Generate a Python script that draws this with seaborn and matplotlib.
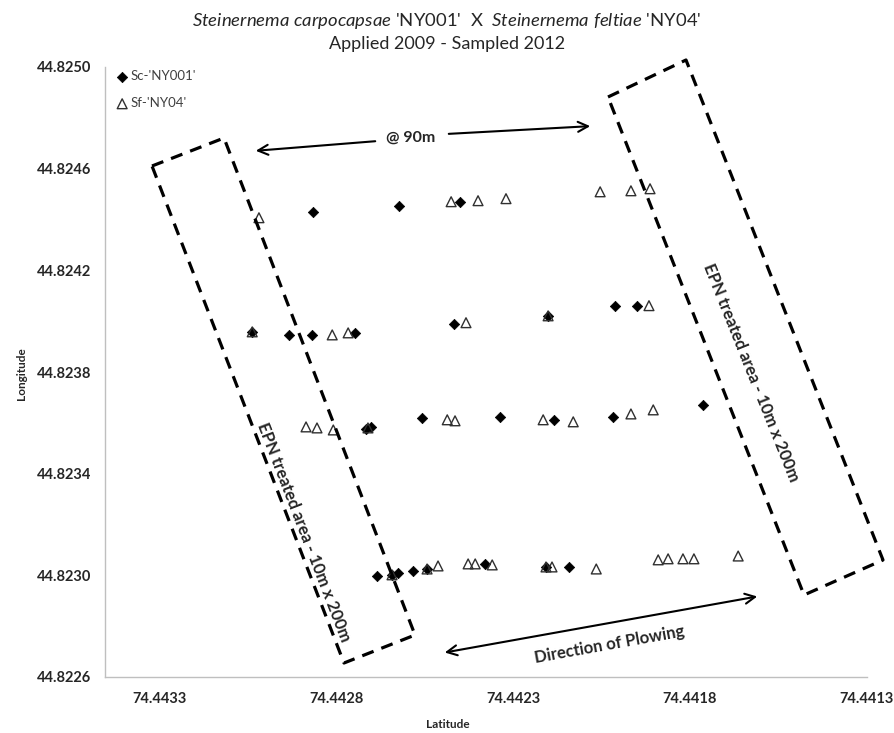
import matplotlib
matplotlib.use("Agg")
import matplotlib.pyplot as plt
from matplotlib.lines import Line2D
from matplotlib.patches import FancyArrowPatch
import seaborn as sns
import pandas as pd

# ---------------- data ----------------
sc_lat = [74.442865, 74.442622, 74.442450,
          74.443037, 74.442933, 74.442868, 74.442746, 74.442467, 74.442201, 74.442012, 74.441950,
          74.442715, 74.442701, 74.442557, 74.442337, 74.442184, 74.442017, 74.441763,
          74.442684, 74.442642, 74.442625, 74.442582, 74.442543, 74.442379, 74.442207, 74.442142]
sc_lon = [44.824431, 44.824454, 44.824470,
          44.823958, 44.823946, 44.823946, 44.823954, 44.823990, 44.824021, 44.824061, 44.824061,
          44.823576, 44.823584, 44.823620, 44.823624, 44.823612, 44.823624, 44.823671,
          44.822998, 44.823002, 44.823009, 44.823017, 44.823025, 44.823045, 44.823033, 44.823033]

sf_lat = [74.443018, 74.442475, 74.442399, 74.442320, 74.442054, 74.441967, 74.441913,
          74.443037, 74.442811, 74.442766, 74.442433, 74.442201, 74.441916,
          74.442885, 74.442854, 74.442808, 74.442710, 74.442486, 74.442464, 74.442215, 74.442130,
          74.441967, 74.441904,
          74.442642, 74.442543, 74.442512, 74.442427, 74.442407, 74.442359, 74.442207, 74.442190,
          74.442065, 74.441890, 74.441862, 74.441820, 74.441789, 74.441664]
sf_lon = [44.824407, 44.824470, 44.824474, 44.824482, 44.824509, 44.824513, 44.824521,
          44.823958, 44.823946, 44.823954, 44.823994, 44.824021, 44.824061,
          44.823584, 44.823580, 44.823572, 44.823580, 44.823612, 44.823608, 44.823612, 44.823604,
          44.823635, 44.823651,
          44.823002, 44.823025, 44.823037, 44.823045, 44.823045, 44.823041, 44.823033, 44.823033,
          44.823025, 44.823061, 44.823065, 44.823065, 44.823065, 44.823076]

series_names = ["Sc-'NY001'", "Sf-'NY04'"]
x_ticks = [74.4433, 74.4428, 74.4423, 74.4418, 74.4413]
y_ticks = [44.8226, 44.8230, 44.8234, 44.8238, 44.8242, 44.8246, 44.8250]

sc_df = pd.DataFrame({"Latitude": sc_lat, "Longitude": sc_lon})
sf_df = pd.DataFrame({"Latitude": sf_lat, "Longitude": sf_lon})

# ---------------- style ----------------
sns.set_theme(style="white")
plt.rcParams['font.family'] = ['Lato', 'DejaVu Sans']
plt.rcParams['mathtext.fontset'] = 'custom'
plt.rcParams['mathtext.rm'] = 'Lato'
plt.rcParams['mathtext.it'] = 'Lato:italic'

W, H = 894, 733
fig = plt.figure(figsize=(W / 100, H / 100), dpi=100)
L, R, T, B = 105, 867, 67, 677
ax = fig.add_axes([L / W, 1 - B / H, (R - L) / W, (B - T) / H])

sns.scatterplot(data=sc_df, x="Latitude", y="Longitude", ax=ax, marker="D", s=28,
                color="black", edgecolor="black", linewidth=0.5, label=series_names[0], zorder=3)
sns.scatterplot(data=sf_df, x="Latitude", y="Longitude", ax=ax, marker="^", s=50,
                facecolor="none", edgecolor="#303030", linewidth=1.0, label=series_names[1], zorder=4)

ax.set_xlim(74.443453, 74.4413)
ax.set_ylim(44.8226, 44.8250)
ax.set_xticks(x_ticks)
ax.set_yticks(y_ticks)
ax.set_xticklabels([f"{v:.4f}" for v in x_ticks], fontsize=10.5, fontweight="bold", color="#262626")
ax.set_yticklabels([f"{v:.4f}" for v in y_ticks], fontsize=10.5, fontweight="bold", color="#262626")
ax.tick_params(axis="both", direction="out", length=5, width=0.8, color="#BFBFBF")
ax.tick_params(axis="x", pad=6)
ax.tick_params(axis="y", pad=5)
for s in ["top", "right"]:
    ax.spines[s].set_visible(False)
for s in ["left", "bottom"]:
    ax.spines[s].set_color("#BFBFBF")
    ax.spines[s].set_linewidth(1.0)
ax.set_xlabel("")
ax.set_ylabel("")
ax.grid(False)

leg = ax.legend(loc="upper left", bbox_to_anchor=(0.013, 0.995), frameon=False,
                fontsize=9.5, handletextpad=0.1, labelspacing=1.15, borderaxespad=0,
                borderpad=0, handlelength=1.1)
for t in leg.get_texts():
    t.set_color("#404040")

# axis labels
fig.text(448 / W, 1 - 724 / H, "Latitude", ha="center", va="center", fontsize=8.5, fontweight="bold")
fig.text(22 / W, 1 - 374 / H, "Longitude", ha="center", va="center", fontsize=8.5,
         fontweight="bold", rotation=90)

# title
fig.text(447 / W, 1 - 21 / H,
         r"$\it{Steinernema\ carpocapsae}$ 'NY001'  X  $\it{Steinernema\ feltiae}$ 'NY04'",
         ha="center", va="center", fontsize=13.3)
fig.text(447 / W, 1 - 44 / H, "Applied 2009 - Sampled 2012", ha="center", va="center", fontsize=13.0)


def P(x, y):
    return (x / W, 1 - y / H)


def dashed_box(corners):
    pts = corners + [corners[0]]
    xs = [P(*c)[0] for c in pts]
    ys = [P(*c)[1] for c in pts]
    fig.add_artist(Line2D(xs, ys, transform=fig.transFigure, color="black", linewidth=2.3,
                          linestyle=(0, (3.8, 2.6)), dash_capstyle="butt"))


dashed_box([(152, 166), (224, 138), (415, 635), (344, 663)])
dashed_box([(608, 97), (686, 60), (883, 560), (804, 595)])


def arrow(start, end, style="->"):
    fig.add_artist(FancyArrowPatch(P(*start), P(*end), transform=fig.transFigure,
                                   arrowstyle=style, mutation_scale=18, linewidth=1.5, color="black"))


arrow((378, 141), (253, 151))
arrow((446, 134), (593, 126))
fig.text(*P(411, 138), "@ 90m", ha="center", va="center", fontsize=11.5, fontweight="bold")

arrow((442, 653), (760, 596), style="<->")
fig.text(*P(609, 645), "Direction of Plowing", ha="center", va="center", fontsize=12,
         fontweight="bold", rotation=10.2)

fig.text(*P(304, 532), "EPN treated area - 10m x 200m", ha="center", va="center", fontsize=12,
         fontweight="bold", rotation=-68.9, rotation_mode="anchor")
fig.text(*P(751, 373), "EPN treated area - 10m x 200m", ha="center", va="center", fontsize=12,
         fontweight="bold", rotation=-68.2, rotation_mode="anchor")

fig.savefig("out.png", dpi=100)
